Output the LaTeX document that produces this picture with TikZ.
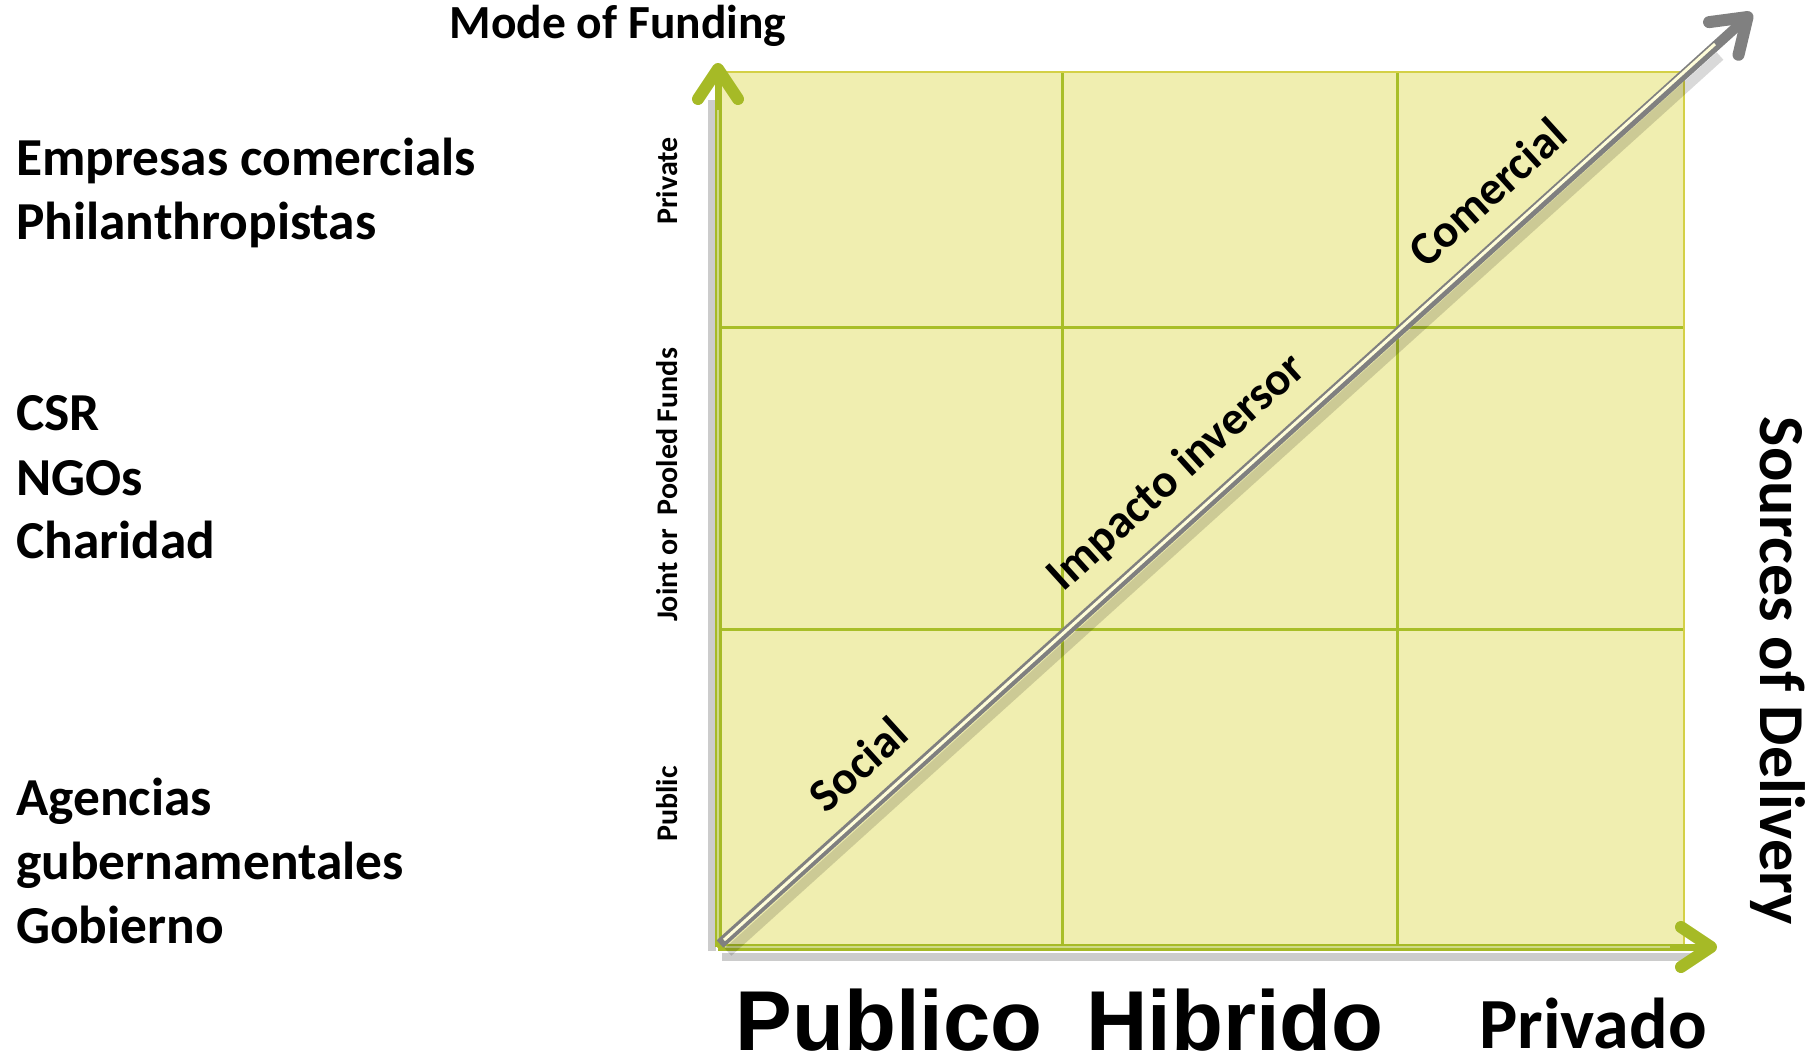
\documentclass[tikz,border=0pt]{standalone}
\usepackage{fontspec}
\setmainfont{Carlito}
\newfontfamily\arialfont{Liberation Sans}
\usetikzlibrary{arrows.meta}

\definecolor{cellfill}{RGB}{240,238,176}
\definecolor{cellborder}{RGB}{212,208,70}
\definecolor{gridgreen}{RGB}{168,190,40}
\definecolor{axisgreen}{RGB}{166,186,38}
\definecolor{diaggray}{RGB}{128,128,128}

\tikzset{
  leftlbl/.style={anchor=base west, inner sep=0, font=\fontsize{53.4}{64}\selectfont\bfseries},
  fundlbl/.style={rotate=90, inner sep=0, font=\fontsize{30}{36}\selectfont\bfseries},
  sectorlbl/.style={anchor=base, inner sep=0, font=\arialfont\fontsize{85}{100}\selectfont\bfseries},
  diaglbl/.style={rotate=42.2, inner sep=0, font=\fontsize{47}{56}\selectfont\bfseries},
  gridline/.style={draw=gridgreen, line width=3pt},
  axisarrow/.style={draw=axisgreen, line width=7pt,
    -{Straight Barb[length=30pt, width=40pt, line width=12pt, round]}},
  shadowline/.style={draw=black, opacity=0.2, line width=8pt},
  diagarrow/.style={draw=diaggray, line width=10pt,
    -{Straight Barb[length=32pt, width=44pt, line width=12pt, round]}},
}

\begin{document}
\begin{tikzpicture}[x=1pt, y=-1pt]
  \useasboundingbox (0,0) rectangle (1810,1061);

  % grid of funding and delivery
  \coordinate (o) at (718,947);
  \coordinate (tr) at (1684,72);
  \fill[cellfill] (o) rectangle (tr);
  \draw[gridline] (1062,72) -- (1062,947);
  \draw[gridline] (1397,72) -- (1397,947);
  \draw[gridline] (718,327) -- (1684,327);
  \draw[gridline] (718,629) -- (1684,629);
  \draw[cellborder, line width=2pt] (o) rectangle (tr);

  % axes
  \coordinate (ytip) at (718,63);
  \coordinate (xtip) at (1717,947);
  \coordinate (dtip) at (1752,13);
  \draw[shadowline] (722,957) -- (1700,957);
  \draw[shadowline] (712,951) -- (712,100);
  \draw[axisarrow] (o) -- (ytip);
  \draw[axisarrow] (o) -- (xtip);
  \draw[axisgreen!55!white, line width=1.5pt] (718,940) -- (718,110);
  \draw[axisgreen!55!white, line width=1.5pt] (725,947) -- (1670,947);

  % diagonal
  \draw[black, opacity=0.15, line width=10pt] (728,952) -- (1720,56);
  \draw[diagarrow] (720,944) -- (dtip);
  \draw[white!85!yellow, line width=3pt] (724,940) -- (1715,44);

  % labels
  \node[anchor=base] (mode) at (618,38) {\fontsize{47.5}{56}\selectfont\bfseries Mode of Funding};
  \node[rotate=-90, inner sep=0, font=\fontsize{64}{76}\selectfont\bfseries] (deliv) at (1778,671) {Sources of Delivery};

  \node[leftlbl] (emp) at (16,175) {Empresas comercials};
  \node[leftlbl] (phil) at (16,239) {Philanthropistas};
  \node[leftlbl] (csr) at (16,430) {CSR};
  \node[leftlbl] (ngo) at (16,495) {NGOs};
  \node[leftlbl] (char) at (16,558) {Charidad};
  \node[leftlbl] (agen) at (16,815) {Agencias};
  \node[leftlbl] (gube) at (16,879) {gubernamentales};
  \node[leftlbl] (gob) at (16,943) {Gobierno};

  \node[fundlbl] (priv) at (667,181) {Private};
  \node[fundlbl] (joint) at (667,485) {Joint or\ \ Pooled Funds};
  \node[fundlbl] (pub) at (667,804) {Public};

  \node[sectorlbl] (publico) at (889,1050) {Publico};
  \node[sectorlbl] (hibrido) at (1235,1050) {Hibrido};
  \node[anchor=base, inner sep=0, font=\fontsize{72}{86}\selectfont\bfseries] (privado) at (1593,1048) {Privado};

  \node[diaglbl] (social) at (858,764) {Social};
  \node[diaglbl] (impacto) at (1177,473) {Impacto inversor};
  \node[diaglbl] (comercial) at (1487,192) {Comercial};
\end{tikzpicture}
\end{document}
